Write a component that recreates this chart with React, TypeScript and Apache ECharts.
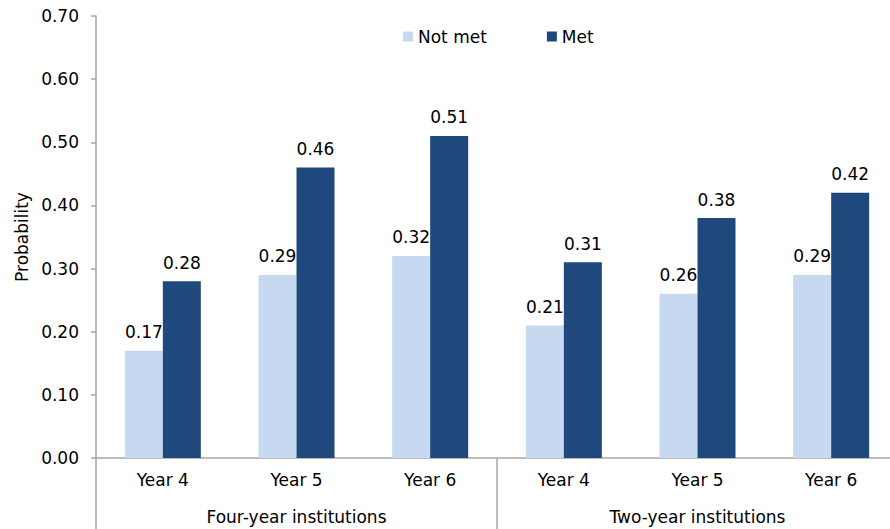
import React, { useEffect, useRef } from "react";
import * as echarts from "echarts";

const yearLabels = ["Year 4", "Year 5", "Year 6", "Year 4", "Year 5", "Year 6"];
const groupLabels = ["Four-year institutions", "Two-year institutions"];
const notMet = [0.17, 0.29, 0.32, 0.21, 0.26, 0.29];
const met = [0.28, 0.46, 0.51, 0.31, 0.38, 0.42];
const seriesNames = ["Not met", "Met"];

const FONT = "'DejaVu Sans', 'Liberation Sans', Arial, sans-serif";
const GRAY = "#A6A6A6";
const FS = 17;

export default function App() {
  const ref = useRef<HTMLDivElement>(null);
  useEffect(() => {
    if (!ref.current) return;
    const chart = echarts.init(ref.current, undefined, { renderer: "svg" });
    const labelCfg = {
      show: true,
      position: "top" as const,
      distance: 10,
      color: "#000",
      fontSize: FS,
      fontFamily: FONT,
      formatter: (p: any) => Number(p.value).toFixed(2),
    };
    chart.setOption({
      animation: false,
      textStyle: { fontFamily: FONT },
      legend: {
        top: 23,
        left: 398,
        itemWidth: 10,
        itemHeight: 10,
        itemGap: 60,
        icon: "rect",
        textStyle: { fontSize: FS, color: "#000", fontFamily: FONT },
        data: seriesNames,
      },
      grid: { left: 96, right: 0, top: 16, bottom: 71, containLabel: false },
      xAxis: [
        {
          type: "category",
          data: yearLabels,
          axisLine: { show: true, lineStyle: { color: GRAY, width: 1.5 } },
          axisTick: { show: false },
          axisLabel: { color: "#000", fontSize: FS, fontFamily: FONT, margin: 13, interval: 0 },
        },
        {
          type: "category",
          data: groupLabels,
          position: "bottom",
          axisLine: { show: false },
          axisTick: { show: true, length: 71, interval: 0, lineStyle: { color: GRAY, width: 1.5 } },
          axisLabel: { color: "#000", fontSize: FS, fontFamily: FONT, margin: 50, interval: 0 },
        },
      ],
      yAxis: {
        type: "value",
        min: 0,
        max: 0.7,
        interval: 0.1,
        name: "Probability",
        nameLocation: "middle",
        nameGap: 65,
        nameRotate: 90,
        nameTextStyle: { color: "#000", fontSize: FS, fontFamily: FONT },
        axisLine: { show: true, lineStyle: { color: GRAY, width: 1.5 } },
        axisTick: { show: true, length: 5, lineStyle: { color: GRAY, width: 1.5 } },
        splitLine: { show: false },
        axisLabel: {
          color: "#000",
          fontSize: FS,
          fontFamily: FONT,
          margin: 17,
          formatter: (v: number) => v.toFixed(2),
        },
      },
      series: [
        {
          name: seriesNames[0],
          type: "bar",
          xAxisIndex: 0,
          data: notMet,
          barWidth: 38,
          barGap: "0%",
          itemStyle: { color: "#C6D9F1" },
          label: labelCfg,
        },
        {
          name: seriesNames[1],
          type: "bar",
          xAxisIndex: 0,
          data: met,
          barWidth: 38,
          barGap: "0%",
          itemStyle: { color: "#1F497D" },
          label: labelCfg,
        },
      ],
    });
    return () => chart.dispose();
  }, []);
  return (
    <div style={{ width: 890, height: 529, position: "absolute", left: 0, top: 0, overflow: "hidden" }}>
      <div ref={ref} style={{ width: 898, height: 529 }} />
    </div>
  );
}
